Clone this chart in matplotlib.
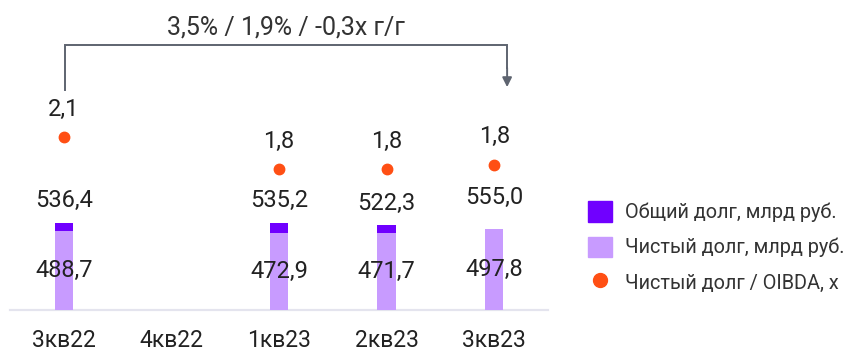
import numpy as np
import matplotlib.pyplot as plt
import matplotlib.transforms as mtransforms
from matplotlib.patches import Patch
from matplotlib.lines import Line2D

plt.rcParams['font.family'] = ['Roboto', 'DejaVu Sans']

# data
quarters = ["3кв22", "4кв22", "1кв23", "2кв23", "3кв23"]
total_debt = [536.4, np.nan, 535.2, 522.3, 555.0]
net_debt = [488.7, np.nan, 472.9, 471.7, 497.8]
show_total_bar = [True, False, True, True, False]
net_debt_oibda = [2.1, np.nan, 1.8, 1.8, 1.84]
change_text = "3,5% / 1,9% / -0,3x г/г"

dark_purple = "#7000FF"
light_purple = "#C89BFF"
orange = "#FF4F14"
text_col = "#222222"

W, H = 854, 351
fig = plt.figure(figsize=(W / 100, H / 100), dpi=100)
ax = fig.add_axes([10 / W, 41 / H, 538 / W, 310 / H])
ax2 = ax.twinx()

x = np.arange(len(quarters))
bar_w = 0.17

# bars: total behind, net in front
tot_drawn = [v if s else np.nan for v, s in zip(total_debt, show_total_bar)]
ax.bar(x, tot_drawn, width=bar_w, color=dark_purple, zorder=2)
ax.bar(x, net_debt, width=bar_w, color=light_purple, zorder=3)

ax.set_xlim(-0.5, len(quarters) - 0.5)
ax.set_ylim(0, 1906)

# labels
for i in range(len(quarters)):
    if np.isnan(total_debt[i]):
        continue
    ax.annotate(f"{total_debt[i]:.1f}".replace(".", ","), (x[i], total_debt[i]),
                xytext=(0, 22), textcoords="offset pixels", ha="center", va="center",
                fontsize=17, color=text_col, zorder=5)
    ax.text(x[i], net_debt[i] / 2, f"{net_debt[i]:.1f}".replace(".", ","),
            ha="center", va="center", fontsize=17, color=text_col, zorder=5)

# ratio dots
ax2.plot(x, net_debt_oibda, "o", color=orange, markersize=7.5, linestyle="none", zorder=4)
ax2.set_ylim(0.483, 3.38)
for i in range(len(quarters)):
    if np.isnan(net_debt_oibda[i]):
        continue
    ax2.annotate(f"{net_debt_oibda[i]:.1f}".replace(".", ","), (x[i], net_debt_oibda[i]),
                 xytext=(0, 28), textcoords="offset pixels", ha="center", va="center",
                 fontsize=17, color=text_col)

# axes styling
for a in (ax, ax2):
    for side in ["top", "right", "left"]:
        a.spines[side].set_visible(False)
    a.set_yticks([])
ax2.spines["bottom"].set_visible(False)
ax.spines["bottom"].set_color("#E4E4EE")
ax.spines["bottom"].set_linewidth(1.6)
ax.set_xticks(x)
ax.set_xticklabels(quarters, fontsize=16.5, color=text_col)
ax.tick_params(axis="x", length=0, pad=14)

# bracket with arrow
blend = mtransforms.blended_transform_factory(ax.transData, ax.transAxes)
br_col = "#5E6470"
ax.plot([0.01, 0.01, 4.12, 4.12], [0.71, 0.855, 0.855, 0.78], color=br_col, lw=1.4,
        transform=blend, clip_on=False, solid_joinstyle="miter")
ax.annotate("", xy=(4.12, 0.71), xytext=(4.12, 0.79), xycoords=blend, textcoords=blend,
            arrowprops=dict(arrowstyle="-|>", color=br_col, lw=1.4, mutation_scale=14))
ax.text(2.065, 0.91, change_text, transform=blend, ha="center", va="center",
        fontsize=18, color="#333333")

# legend
handles = [Patch(color=dark_purple), Patch(color=light_purple),
           Line2D([], [], marker="o", color=orange, linestyle="none", markersize=10)]
labels = ["Общий долг, млрд руб.", "Чистый долг, млрд руб.", "Чистый долг / OIBDA, x"]
fig.legend(handles, labels, loc="center left", bbox_to_anchor=(588 / W, 1 - 247 / H),
           frameon=False, fontsize=14.3, handlelength=1.2, handleheight=1.2,
           handletextpad=0.65, labelspacing=0.72, borderpad=0, borderaxespad=0,
           labelcolor="#333333")

fig.savefig("out.png", dpi=100)
